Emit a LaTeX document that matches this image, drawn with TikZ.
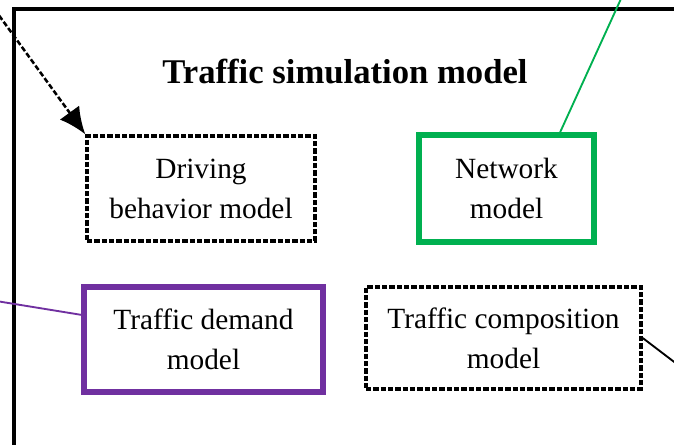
\documentclass[tikz,border=0pt]{standalone}
\usepackage{fontspec}
\setmainfont{Liberation Serif}
\usetikzlibrary{arrows.meta,calc}
\definecolor{ngreen}{HTML}{00B050}
\definecolor{npurple}{HTML}{7030A0}
\begin{document}
\begin{tikzpicture}[x=0.75pt,y=-0.75pt,
  mbox/.style={draw, align=center, inner sep=0pt, font=\fontsize{22}{30}\selectfont},
  dbox/.style={mbox, line width=2.6pt, dash pattern=on 4pt off 1.5pt},
  gbox/.style={mbox, draw=ngreen, line width=4.2pt},
  pbox/.style={mbox, draw=npurple, line width=4.2pt},
  frame/.style={line width=2.6pt},
  darrow/.style={line width=1.9pt, dash pattern=on 4pt off 1.8pt, -{Latex[length=20pt,width=18pt]}}
]
\useasboundingbox (0,0) rectangle (674,444);
\clip (0,0) rectangle (674,444);
\draw[frame] (14,460) |- (690,9);
\node[font=\bfseries\fontsize{26}{30}\selectfont] (title) at (345,72) {Traffic simulation model};
\node[dbox, minimum width=228*0.75pt, minimum height=105*0.75pt] (drv) at (201,188.5) {Driving\\behavior model};
\node[gbox, minimum width=175*0.75pt, minimum height=107*0.75pt] (net) at (506.5,188.5) {Network\\model};
\node[pbox, minimum width=239*0.75pt, minimum height=105*0.75pt] (dem) at (203.5,339.5) {Traffic demand\\model};
\node[dbox, minimum width=275*0.75pt, minimum height=102*0.75pt] (comp) at (503.5,338) {Traffic composition\\model};
\coordinate (src) at (-10,3);
\coordinate (gtop) at (625,-10);
\coordinate (pleft) at (-10,300);
\coordinate (cright) at (690,374);
\draw[darrow] (src) -- (drv.north west);
\draw[ngreen, line width=1.4pt] ($(net.north west)!0.797!(net.north east)$) -- (gtop);
\draw[npurple, line width=1.4pt] ($(dem.north west)!0.277!(dem.south west)$) -- (pleft);
\draw[line width=1.4pt] (comp.east) -- (cright);
\end{tikzpicture}
\end{document}
